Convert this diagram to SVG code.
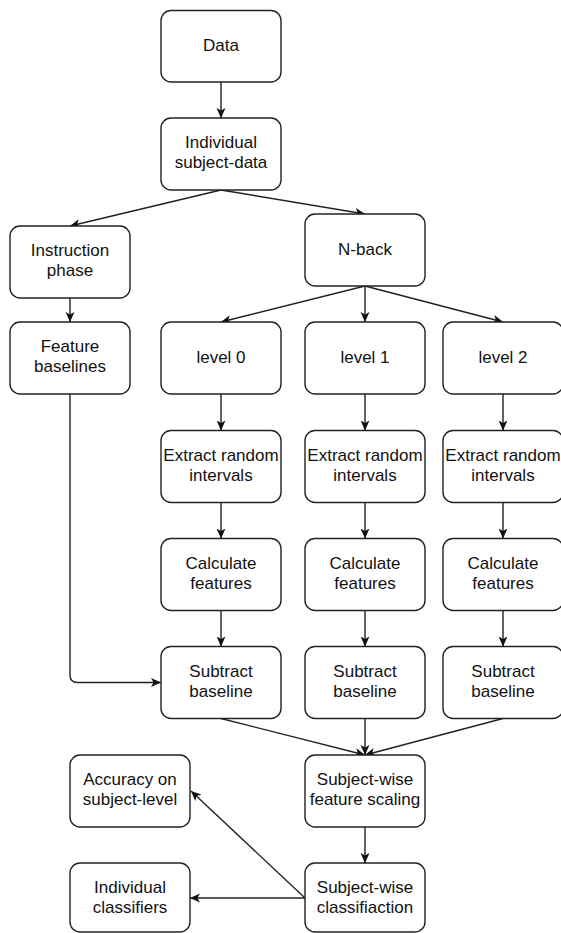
<svg xmlns="http://www.w3.org/2000/svg" width="561" height="933" viewBox="0 0 561 933">
  <style>
    .box { fill: #ffffff; stroke: #222222; stroke-width: 1.4; }
    .lbl { font-family: "Liberation Sans", Arial, sans-serif; font-size: 17px; fill: #111111; text-anchor: middle; }
    .edge { fill: none; stroke: #222222; stroke-width: 1.4; marker-end: url(#arrow); }
  </style>
  <defs>
    <marker id="arrow" markerUnits="userSpaceOnUse" markerWidth="12" markerHeight="10" refX="10" refY="4.5" orient="auto">
      <path d="M0,0 L10,4.5 L0,9 L2.6,4.5 Z" fill="#111111"/>
    </marker>
  </defs>

  <rect width="561" height="933" fill="#ffffff"/>

  <!-- connectors -->
  <g id="connectors">
    <line class="edge" x1="221" y1="82" x2="221" y2="118"/>
    <line class="edge" x1="221" y1="190" x2="70" y2="226"/>
    <line class="edge" x1="221" y1="190" x2="365" y2="214"/>
    <line class="edge" x1="70" y1="298" x2="70" y2="322"/>
    <line class="edge" x1="365" y1="286" x2="221" y2="322"/>
    <line class="edge" x1="365" y1="286" x2="365" y2="322"/>
    <line class="edge" x1="365" y1="286" x2="503" y2="322"/>

    <line class="edge" x1="221" y1="394" x2="221" y2="430.5"/>
    <line class="edge" x1="365" y1="394" x2="365" y2="430.5"/>
    <line class="edge" x1="503" y1="394" x2="503" y2="430.5"/>
    <line class="edge" x1="221" y1="502.5" x2="221" y2="538.5"/>
    <line class="edge" x1="365" y1="502.5" x2="365" y2="538.5"/>
    <line class="edge" x1="503" y1="502.5" x2="503" y2="538.5"/>
    <line class="edge" x1="221" y1="610.5" x2="221" y2="646.5"/>
    <line class="edge" x1="365" y1="610.5" x2="365" y2="646.5"/>
    <line class="edge" x1="503" y1="610.5" x2="503" y2="646.5"/>

    <path class="edge" d="M70,394 V675 Q70,682.5 77.5,682.5 H161"/>

    <line class="edge" x1="221" y1="718.5" x2="365" y2="755"/>
    <line class="edge" x1="365" y1="718.5" x2="365" y2="755"/>
    <line class="edge" x1="503" y1="718.5" x2="365" y2="755"/>
    <line class="edge" x1="365" y1="827" x2="365" y2="863"/>
    <line class="edge" x1="305" y1="898" x2="190" y2="898"/>
    <line class="edge" x1="305" y1="898" x2="191" y2="791"/>
  </g>

  <!-- nodes -->
  <g id="data"><rect class="box" x="161" y="10.5" width="120" height="71.5" rx="10"/><text class="lbl" x="221" y="50.5">Data</text></g>
  <g id="subject-data"><rect class="box" x="161" y="118" width="120" height="72" rx="10"/><text class="lbl" x="221" y="148">Individual</text><text class="lbl" x="221" y="168">subject-data</text></g>
  <g id="instruction"><rect class="box" x="10" y="226" width="120" height="72" rx="10"/><text class="lbl" x="70" y="256">Instruction</text><text class="lbl" x="70" y="276">phase</text></g>
  <g id="nback"><rect class="box" x="305" y="214" width="120" height="72" rx="10"/><text class="lbl" x="365" y="254.5">N-back</text></g>
  <g id="baselines"><rect class="box" x="10" y="322" width="120" height="72" rx="10"/><text class="lbl" x="70" y="352">Feature</text><text class="lbl" x="70" y="372">baselines</text></g>

  <g id="level0"><rect class="box" x="161" y="322" width="120" height="72" rx="10"/><text class="lbl" x="221" y="362.5">level 0</text></g>
  <g id="level1"><rect class="box" x="305" y="322" width="120" height="72" rx="10"/><text class="lbl" x="365" y="362.5">level 1</text></g>
  <g id="level2"><rect class="box" x="443" y="322" width="120" height="72" rx="10"/><text class="lbl" x="503" y="362.5">level 2</text></g>

  <g id="extract0"><rect class="box" x="161" y="430.5" width="120" height="72" rx="10"/><text class="lbl" x="221" y="460.5">Extract random</text><text class="lbl" x="221" y="480.5">intervals</text></g>
  <g id="extract1"><rect class="box" x="305" y="430.5" width="120" height="72" rx="10"/><text class="lbl" x="365" y="460.5">Extract random</text><text class="lbl" x="365" y="480.5">intervals</text></g>
  <g id="extract2"><rect class="box" x="443" y="430.5" width="120" height="72" rx="10"/><text class="lbl" x="503" y="460.5">Extract random</text><text class="lbl" x="503" y="480.5">intervals</text></g>

  <g id="calc0"><rect class="box" x="161" y="538.5" width="120" height="72" rx="10"/><text class="lbl" x="221" y="568.5">Calculate</text><text class="lbl" x="221" y="588.5">features</text></g>
  <g id="calc1"><rect class="box" x="305" y="538.5" width="120" height="72" rx="10"/><text class="lbl" x="365" y="568.5">Calculate</text><text class="lbl" x="365" y="588.5">features</text></g>
  <g id="calc2"><rect class="box" x="443" y="538.5" width="120" height="72" rx="10"/><text class="lbl" x="503" y="568.5">Calculate</text><text class="lbl" x="503" y="588.5">features</text></g>

  <g id="subtract0"><rect class="box" x="161" y="646.5" width="120" height="72" rx="10"/><text class="lbl" x="221" y="676.5">Subtract</text><text class="lbl" x="221" y="696.5">baseline</text></g>
  <g id="subtract1"><rect class="box" x="305" y="646.5" width="120" height="72" rx="10"/><text class="lbl" x="365" y="676.5">Subtract</text><text class="lbl" x="365" y="696.5">baseline</text></g>
  <g id="subtract2"><rect class="box" x="443" y="646.5" width="120" height="72" rx="10"/><text class="lbl" x="503" y="676.5">Subtract</text><text class="lbl" x="503" y="696.5">baseline</text></g>

  <g id="scaling"><rect class="box" x="305" y="755" width="120" height="72" rx="10"/><text class="lbl" x="365" y="785">Subject-wise</text><text class="lbl" x="365" y="805">feature scaling</text></g>
  <g id="accuracy"><rect class="box" x="70" y="755" width="120" height="72" rx="10"/><text class="lbl" x="130" y="785">Accuracy on</text><text class="lbl" x="130" y="805">subject-level</text></g>
  <g id="classification"><rect class="box" x="305" y="863" width="120" height="69" rx="10"/><text class="lbl" x="365" y="893">Subject-wise</text><text class="lbl" x="365" y="913">classifiaction</text></g>
  <g id="classifiers"><rect class="box" x="70" y="863" width="120" height="69" rx="10"/><text class="lbl" x="130" y="893">Individual</text><text class="lbl" x="130" y="913">classifiers</text></g>
</svg>
